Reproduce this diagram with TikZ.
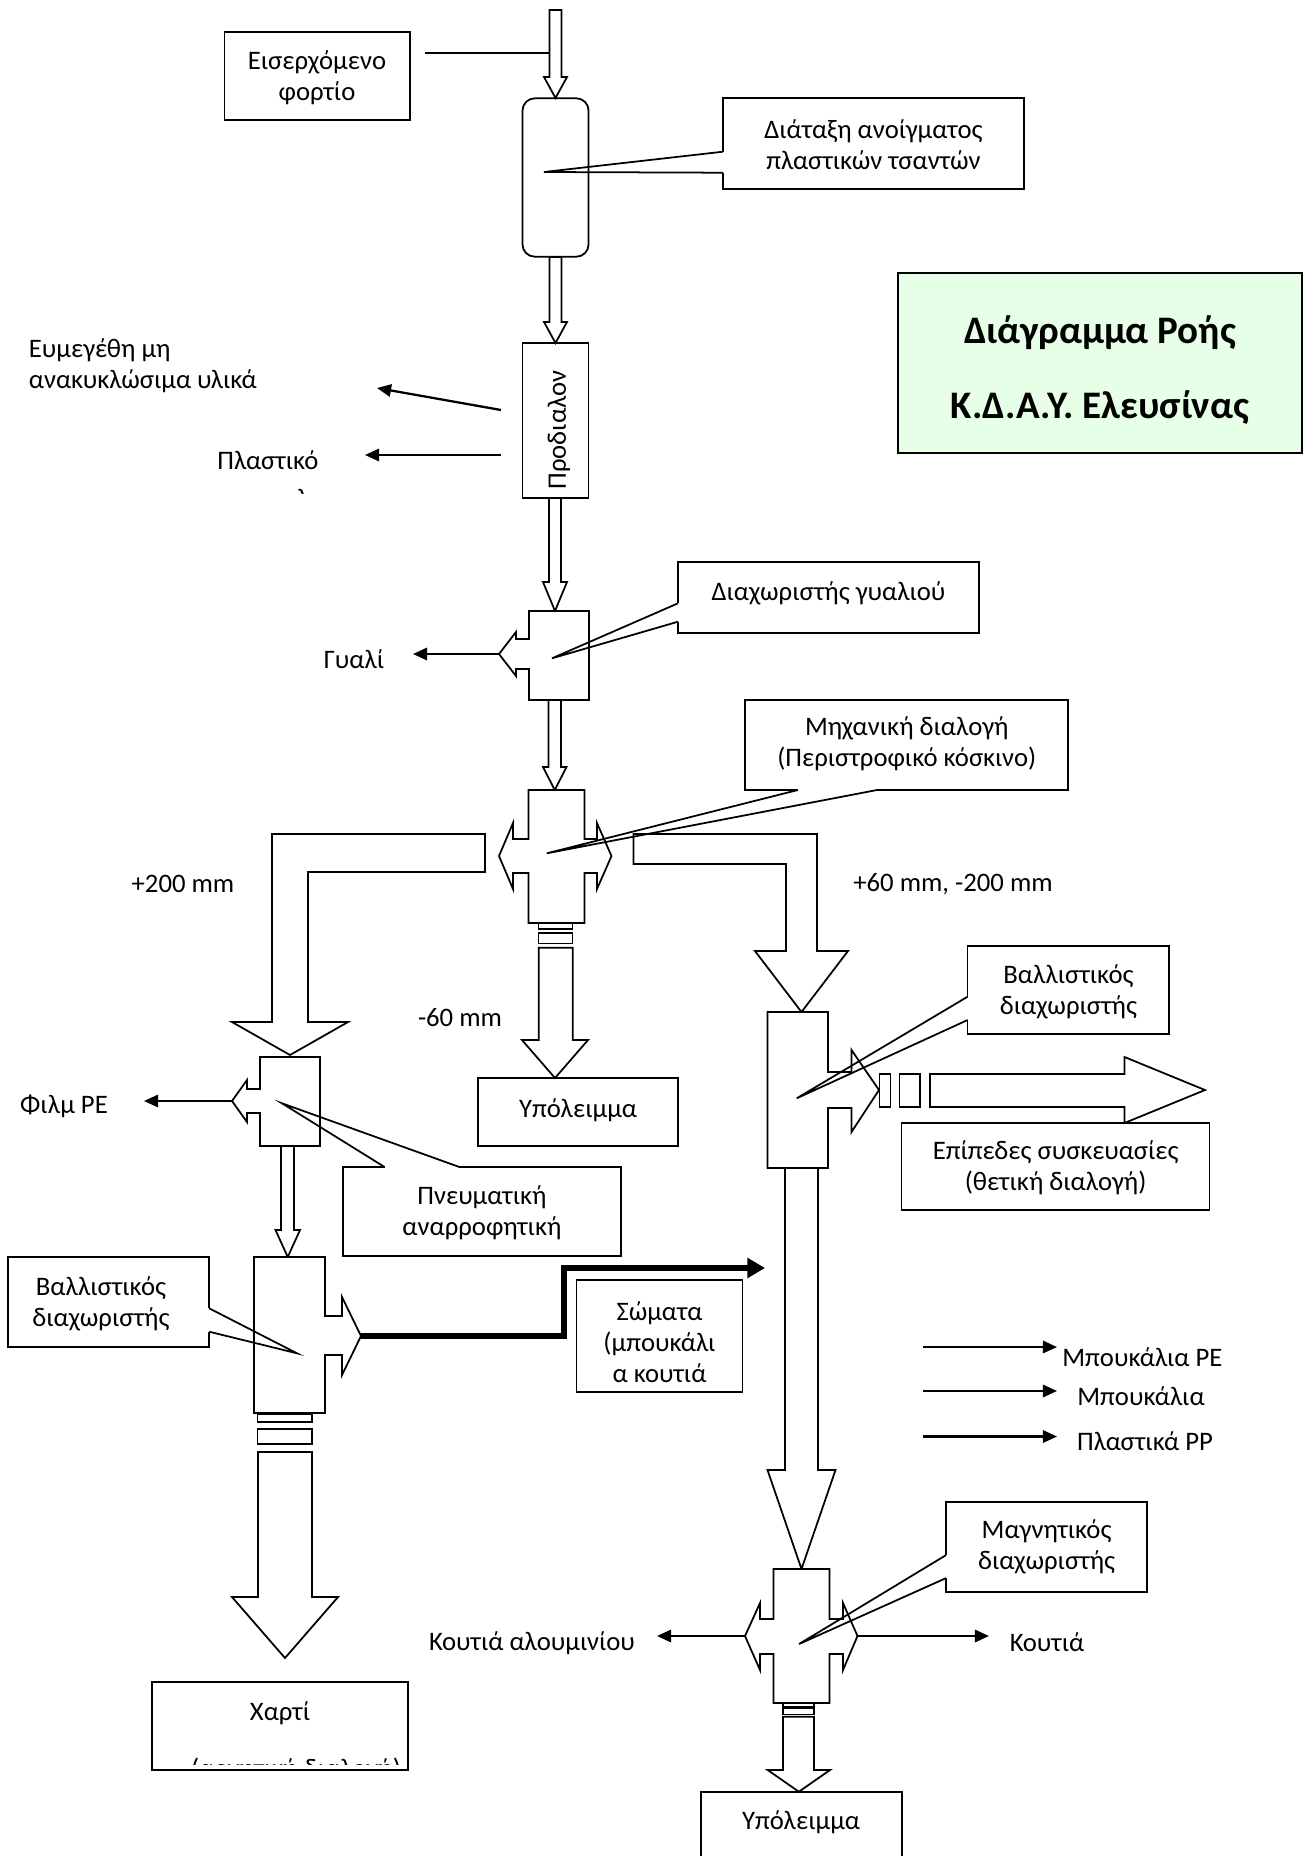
\documentclass[tikz,border=0pt]{standalone}
\usepackage{fontspec}
\setmainfont{Carlito}
\usepackage{tikz}
\usetikzlibrary{arrows.meta,fit}
\definecolor{titlegreen}{RGB}{230,255,230}

\begin{document}
\begin{tikzpicture}[
  x=0.02cm, y=-0.02cm,
  font=\fontsize{15.2}{17.8}\selectfont,
  blk/.style={draw, fill=white, line width=1pt, line join=miter},
  box/.style={draw, line width=1pt, inner sep=0pt},
  txt/.style={inner sep=0pt, align=center},
  ring/.style={draw, line width=0.9pt},
  tail/.style={line width=1pt, line join=miter},
  flow/.style={-{Triangle[length=8pt,width=7pt]}, line width=1.3pt},
  heavy/.style={-{Triangle[length=10pt,width=11pt]}, line width=3.4pt, line join=miter},
  erase/.style={white, line width=1.8pt},
]
\useasboundingbox (0,0) rectangle (1303,1856);

% main line, block arrows going down
\foreach \xa/\xb/\ya/\yb/\ha/\hb/\yc in {
  549.5/561.5/10/77/544/567/98,
  549.5/561.5/257/322/544/567/343,
  549/561/498/582/543/567/611,
  548.5/561/700/767/543/566.5/790,
  538.7/572.7/947.7/1040/522/588/1078,
  281/294/1146/1230/275.5/300/1257,
  258/312/1452/1597/232/338/1658,
  785/818/1168/1470/767.5/835.5/1569,
  783/814/1716.7/1770/767.7/830/1791.7}
  \draw[blk] (\xa,\ya) -- (\xa,\yb) -- (\ha,\yb) -- ({(\ha+\hb)/2},\yc)
    -- (\hb,\yb) -- (\xb,\yb) -- (\xb,\ya) -- cycle;

% incoming load
\node[box, fit={(224.4,31.7) (410.3,120)}] (load) {};
\node[txt] (loadLbl) at (317,77.5) {Εισερχόμενο\\φορτίο};
\coordinate (loadLn) at (425,53);
\coordinate (feedIn) at (549.5,53);
\draw[line width=0.9pt] (loadLn) -- (feedIn);

% bag opener and pre-sorting
\node[box, rounded corners=7pt, fit={(522.5,98.3) (588.6,256.7)}] (opener) {};
\node[box, fit={(522.5,343.3) (588.6,498.3)}] (presort) {};
\node[txt, rotate=90] (presortLbl) at (559,430) {Προδιαλον};
\coordinate (psA) at (501,410);
\coordinate (psAend) at (377,388);
\coordinate (psB) at (501,455);
\coordinate (psBend) at (365,455);
\draw[flow] (psA) -- (psAend);
\draw[flow] (psB) -- (psBend);
\node[txt, anchor=west, align=left] (bulky) at (28.6,366) {Ευμεγέθη μη\\ανακυκλώσιμα υλικά};
\node[txt] (plastic) at (268,460) {Πλαστικό};
\begin{scope}
  \clip (200,470) rectangle (340,493);
  \node[txt, anchor=base west] (plasticSub) at (272,507) {φιλμ};
\end{scope}

% glass separator
\draw[blk] (529,611) -- (589,611) -- (589,700) -- (529,700) -- (529,669) -- (516,669)
  -- (516,676) -- (499,654) -- (516,632) -- (516,639) -- (529,639) -- cycle;
\coordinate (glassOut) at (499,654);
\coordinate (glassEnd) at (413,654);
\draw[flow] (glassOut) -- (glassEnd);
\node[txt] (glass) at (354,659) {Γυαλί};

% rotary screen
\draw[blk] (528.5,790) -- (584.5,790) -- (584.5,839) -- (597,839) -- (597,823) -- (611.5,856)
  -- (597,889) -- (597,873) -- (584.5,873) -- (584.5,923) -- (528.5,923) -- (528.5,873)
  -- (513,873) -- (513,889) -- (499,856) -- (513,823) -- (513,839) -- (528.5,839) -- cycle;
\draw[ring] (538.7,923) rectangle (572.7,928.7);
\draw[ring] (538.7,932.7) rectangle (572.7,943.3);
\draw[blk] (485,834) -- (272,834) -- (272,1022) -- (232,1022) -- (290,1055) -- (348,1022)
  -- (308,1022) -- (308,872) -- (485,872) -- cycle;
\draw[blk] (633.6,834) -- (817,834) -- (817,951) -- (848,951) -- (801.5,1012) -- (755,951)
  -- (786,951) -- (786,864) -- (633.6,864) -- cycle;
\node[txt] (over200) at (183,884) {+200 mm};
\node[txt] (mid60) at (953,884) {+60 mm, -200 mm};
\node[txt] (under60) at (460,1018) {-60 mm};
\node[box, fit={(477.7,1078.3) (678,1146)}] (rest1) {};
\node[txt] (rest1Lbl) at (578,1110) {Υπόλειμμα};

% air separator
\draw[blk] (260,1057) -- (320,1057) -- (320,1146) -- (260,1146) -- (260,1113) -- (247,1113)
  -- (247,1122) -- (232,1101) -- (247,1080) -- (247,1089) -- (260,1089) -- cycle;
\coordinate (pneuOut) at (232,1101);
\coordinate (pneuEnd) at (144,1101);
\draw[flow] (pneuOut) -- (pneuEnd);
\node[txt] (film) at (64,1106) {Φιλμ PE};

% ballistic separator, left
\draw[blk] (254,1257) -- (325,1257) -- (325,1316) -- (342,1316) -- (342,1297) -- (361,1336)
  -- (342,1375) -- (342,1355) -- (325,1355) -- (325,1413) -- (254,1413) -- cycle;
\draw[ring] (257.7,1414) rectangle (312.2,1422);
\draw[ring] (257.7,1429) rectangle (312.2,1444);
\coordinate (balOut) at (361,1336);
\coordinate (balEnd) at (765,1268);
\draw[heavy] (balOut) -- ++(203,0) |- (balEnd);
\node[box, fit={(576.5,1280) (742.4,1391.7)}] (bodies) {};
\node[txt] (bodiesLbl) at (659.5,1342) {Σώματα\\(μπουκάλι\\α κουτιά};
\node[box, fit={(151.7,1681.7) (408,1770)}] (paper) {};
\node[txt] (paperLbl) at (280,1713) {Χαρτί};
\begin{scope}
  \clip (153,1740) rectangle (407,1764);
  \node[txt, anchor=base] (paperSub) at (296,1777) {(αρνητική διαλογή)};
\end{scope}

% ballistic separator, right
\draw[blk] (767.5,1012) -- (828,1012) -- (828,1072) -- (851.5,1072) -- (851.5,1050) -- (879,1090)
  -- (851.5,1132) -- (851.5,1108) -- (828,1108) -- (828,1168) -- (767.5,1168) -- cycle;
\draw[ring] (879.6,1074) rectangle (890.6,1107);
\draw[ring] (899.5,1074) rectangle (920,1107);
\draw[blk] (930,1074) -- (1124.5,1074) -- (1124.5,1057) -- (1205,1090) -- (1124.5,1123)
  -- (1124.5,1107) -- (930,1107) -- cycle;
\node[box, fit={(901.6,1123.3) (1209.6,1210)}] (flat) {};
\node[txt] (flatLbl) at (1055.6,1168) {Επίπεδες συσκευασίες\\(θετική διαλογή)};

% magnetic separator
\draw[blk] (773.5,1569) -- (829.5,1569) -- (829.5,1619) -- (843,1619) -- (843,1603) -- (857.5,1636)
  -- (843,1670) -- (843,1654) -- (829.5,1654) -- (829.5,1703) -- (773.5,1703) -- (773.5,1654)
  -- (760,1654) -- (760,1670) -- (745,1636) -- (760,1603) -- (760,1619) -- (773.5,1619) -- cycle;
\draw[ring] (783,1703) rectangle (814,1706.7);
\draw[ring] (783,1708.3) rectangle (814,1714.3);
\coordinate (magL) at (745,1636);
\coordinate (magLend) at (657,1636);
\coordinate (magR) at (857.5,1636);
\coordinate (magRend) at (989,1636);
\draw[flow] (magL) -- (magLend);
\draw[flow] (magR) -- (magRend);
\node[txt] (alu) at (532,1643) {Κουτιά αλουμινίου};
\node[txt] (cans) at (1047,1642) {Κουτιά};
\draw[tail] (700.7,1860) |- (901.7,1792.3) -- (901.7,1860);
\node[txt] (rest2) at (801,1822) {Υπόλειμμα};

% legend
\foreach \n/\y in {lgA/1347,lgB/1391,lgC/1436.5}{
  \coordinate (\n) at (923,\y);
  \coordinate (\n end) at (1057,\y);
  \draw[flow] (\n) -- (\n end);
}
\node[txt, anchor=west] (bottlesPE) at (1062,1357) {Μπουκάλια PE};
\node[txt] (bottles) at (1141,1396) {Μπουκάλια};
\node[txt] (plasticPP) at (1145,1441) {Πλαστικά PP};

% title
\node[box, fill=titlegreen, fit={(898,273) (1302,453)}] (titlebox) {};
\node[txt, font=\fontsize{22.2}{26}\selectfont\bfseries] (title) at (1100,370)
  {Διάγραμμα Ροής\\[17pt]Κ.Δ.Α.Υ. Ελευσίνας};

% callouts
\node[box, fit={(723,98.3) (1024,189)}] (cOpen) {};
\node[txt] (cOpenLbl) at (873.5,144.5) {Διάταξη ανοίγματος\\πλαστικών τσαντών};
\draw[erase] (723,151.7) -- (723,172.7);
\draw[tail] (723,151.7) -- (544,172) -- (723,172.7);

\node[box, fit={(678,561.7) (979,633.3)}] (cGlass) {};
\node[txt] (cGlassLbl) at (828.5,593) {Διαχωριστής γυαλιού};
\draw[erase] (678,603.3) -- (678,621.7);
\draw[tail] (678,603.3) -- (552,658.3) -- (678,621.7);

\node[box, fit={(745.3,700) (1068.3,790)}] (cScreen) {};
\node[txt] (cScreenLbl) at (906.8,744) {Μηχανική διαλογή\\(Περιστροφικό κόσκινο)};
\draw[erase] (797.9,790) -- (877,790);
\draw[tail] (797.9,790) -- (546.8,853.3) -- (877,790);

\node[box, fit={(967.6,946) (1169.3,1034.3)}] (cBalR) {};
\node[txt] (cBalRLbl) at (1068.5,992) {Βαλλιστικός\\διαχωριστής};
\draw[erase] (967.6,996.7) -- (967.6,1020);
\draw[tail] (967.6,996.7) -- (796.7,1098.3) -- (967.6,1020);

\node[box, fit={(343,1167) (621,1256)}] (cPneu) {};
\node[txt] (cPneuLbl) at (482,1212.5) {Πνευματική\\αναρροφητική};
\draw[erase] (384.6,1167) -- (459.4,1167);
\draw[tail] (384.6,1167) -- (282,1103.3) -- (459.4,1167);

\node[box, fit={(7.7,1257.3) (209.2,1346.7)}] (cBalL) {};
\node[txt] (cBalLLbl) at (101,1303.5) {Βαλλιστικός\\διαχωριστής};
\draw[erase] (209.2,1308.3) -- (209.2,1331.7);
\draw[tail] (209.2,1308.3) -- (297,1353.3) -- (209.2,1331.7);

\node[box, fit={(946,1502.3) (1147.2,1592.3)}] (cMag) {};
\node[txt] (cMagLbl) at (1046.6,1547) {Μαγνητικός\\διαχωριστής};
\draw[erase] (946,1555.1) -- (946,1578.1);
\draw[tail] (946,1555.1) -- (799.1,1644) -- (946,1578.1);
\end{tikzpicture}
\end{document}
